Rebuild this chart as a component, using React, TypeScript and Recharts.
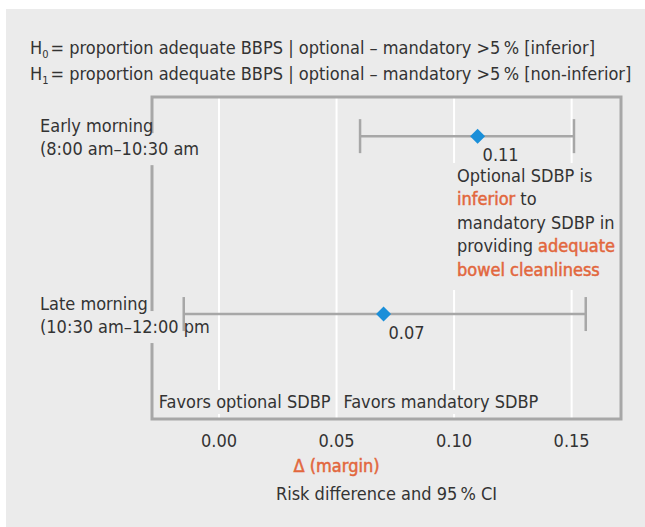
import React from "react";
import {
  ScatterChart,
  Scatter,
  XAxis,
  YAxis,
  CartesianGrid,
  ErrorBar,
  ReferenceArea,
  ReferenceLine,
} from "recharts";

// rows, top to bottom
const rowNames = ["Early morning", "Late morning"];
const rowTimes = ["(8:00 am–10:30 am", "(10:30 am–12:00 pm"];
const riskDiff = [0.11, 0.07];
const ciLow = [0.06, -0.015];
const ciHigh = [0.151, 0.156];
const rowIds = [1, 2];
const xTicks = [0, 0.05, 0.1, 0.15];
const MARGIN = 0.05;
const X_DOMAIN: [number, number] = [-0.0285, 0.171];
const Y_DOMAIN: [number, number] = [0.78, 2.59];

const FONT = "'DejaVu Sans Condensed', 'Liberation Sans Narrow', 'DejaVu Sans', sans-serif";
const INK = "#333333";
const ORANGE = "#e2673d";
const BLUE = "#1a8fd9";
const GRAY = "#a7a7a7";
const PANEL = "#ebebeb";

const data = riskDiff.map((d, i) => ({
  row: rowIds[i],
  rd: d,
  err: [d - ciLow[i], ciHigh[i] - d],
}));

const Diamond = (props: any) => {
  const { cx, cy, payload } = props;
  const r = 7.5;
  return (
    <g>
      <polygon points={`${cx},${cy - r} ${cx + r},${cy} ${cx},${cy + r} ${cx - r},${cy}`} fill={BLUE} />
      <text x={cx + 5} y={cy + 25} fill={INK} fontSize={18}>
        {payload.rd.toFixed(2)}
      </text>
    </g>
  );
};

const RowTick = (props: any) => {
  const { y, payload } = props;
  const i = rowIds.indexOf(Number(payload?.value));
  if (i < 0) return <g />;
  return (
    <g>
      {/* gap in the frame behind the second line */}
      <rect x={146} y={y - 3} width={12} height={32} fill={PANEL} />
      <text x={40} y={y - 4} fill={INK} fontSize={18} textAnchor="start">
        {rowNames[i]}
      </text>
      <text x={40} y={y + 19} fill={INK} fontSize={18} textAnchor="start">
        {rowTimes[i]}
      </text>
    </g>
  );
};

const XTick = ({ x, y, payload }: any) => (
  <g>
    <text x={x} y={y + 14} fill={INK} fontSize={18} textAnchor="middle">
      {payload.value.toFixed(2)}
    </text>
    {payload.value === MARGIN && (
      <text x={x} y={y + 39} fill={ORANGE} stroke={ORANGE} strokeWidth={0.5} fontSize={18} textAnchor="middle">
        Δ (margin)
      </text>
    )}
  </g>
);

const AxisTitle = ({ viewBox }: any) => (
  <text x={viewBox.x + viewBox.width / 2} y={viewBox.y + 81} fill={INK} fontSize={18} textAnchor="middle">
    Risk difference and 95{"\u2009"}% CI
  </text>
);

const FavorsLabel = ({ viewBox }: any) => {
  const { x, y, height } = viewBox;
  const base = y + height - 11;
  return (
    <g>
      <rect x={x - 180} y={base - 18} width={175} height={24} fill={PANEL} />
      <rect x={x + 5} y={base - 18} width={200} height={24} fill={PANEL} />
      <text x={x - 6} y={base} fill={INK} fontSize={18} textAnchor="end">
        Favors optional SDBP
      </text>
      <text x={x + 7} y={base} fill={INK} fontSize={18} textAnchor="start">
        Favors mandatory SDBP
      </text>
    </g>
  );
};

const Conclusion = ({ viewBox }: any) => {
  const { x, y } = viewBox;
  const tx = x + 3;
  const b = y + 85;
  const lh = 23.4;
  const hi = { fill: ORANGE, stroke: ORANGE, strokeWidth: 0.5 };
  return (
    <g fontSize={18} fill={INK}>
      <rect x={x - 2} y={y + 66} width={166} height={127} fill={PANEL} />
      <text x={tx} y={b}>Optional SDBP is</text>
      <text x={tx} y={b + lh}>
        <tspan {...hi}>inferior</tspan> to
      </text>
      <text x={tx} y={b + 2 * lh}>mandatory SDBP in</text>
      <text x={tx} y={b + 3 * lh}>
        providing <tspan {...hi}>adequate</tspan>
      </text>
      <text x={tx} y={b + 4 * lh}>
        <tspan {...hi}>bowel cleanliness</tspan>
      </text>
    </g>
  );
};

const sub = { fontSize: 11, position: "relative" as const, top: 4, marginRight: 2 };

export default function App() {
  return (
    <div
      style={{
        position: "fixed",
        left: 0,
        top: 0,
        width: 645,
        height: 527,
        background: "#fff",
        fontFamily: FONT,
        color: INK,
      }}
    >
      <div style={{ position: "absolute", left: 6, top: 9, right: 0, bottom: 0, background: PANEL }} />
      <div style={{ position: "absolute", left: 30, top: 36, fontSize: 18, lineHeight: "23px", whiteSpace: "nowrap" }}>
        <div>
          H<span style={sub}>0</span>= proportion adequate BBPS | optional – mandatory &gt;5{"\u2009"}% [inferior]
        </div>
        <div>
          H<span style={sub}>1</span>= proportion adequate BBPS | optional – mandatory &gt;5{"\u2009"}% [non-inferior]
        </div>
      </div>
      <div style={{ position: "absolute", left: 0, top: 0 }}>
        <ScatterChart width={645} height={527} margin={{ top: 97, right: 24, bottom: 18, left: 40 }}>
          <CartesianGrid horizontal={false} stroke="#ffffff" strokeWidth={2} />
          <ReferenceArea
            x1={X_DOMAIN[0]}
            x2={X_DOMAIN[1]}
            y1={Y_DOMAIN[0]}
            y2={Y_DOMAIN[1]}
            fill="none"
            fillOpacity={0}
            stroke={GRAY}
            strokeWidth={3}
            ifOverflow="visible"
          />
          <XAxis
            type="number"
            dataKey="rd"
            domain={X_DOMAIN}
            ticks={xTicks}
            allowDataOverflow
            axisLine={false}
            tickLine={false}
            tickSize={6}
            tickMargin={8}
            height={90}
            tick={<XTick />}
            label={<AxisTitle />}
          />
          <YAxis
            type="number"
            dataKey="row"
            domain={Y_DOMAIN}
            ticks={rowIds}
            reversed
            allowDataOverflow
            axisLine={false}
            tickLine={false}
            width={112}
            interval={0}
            tick={<RowTick />}
          />
          <ReferenceLine x={MARGIN} stroke="none" label={<FavorsLabel />} />
          <ReferenceLine x={0.1} stroke="none" label={<Conclusion />} />
          <Scatter data={data} shape={<Diamond />} isAnimationActive={false}>
            <ErrorBar dataKey="err" direction="x" width={17} stroke={GRAY} strokeWidth={2.5} isAnimationActive={false} />
          </Scatter>
        </ScatterChart>
      </div>
    </div>
  );
}
